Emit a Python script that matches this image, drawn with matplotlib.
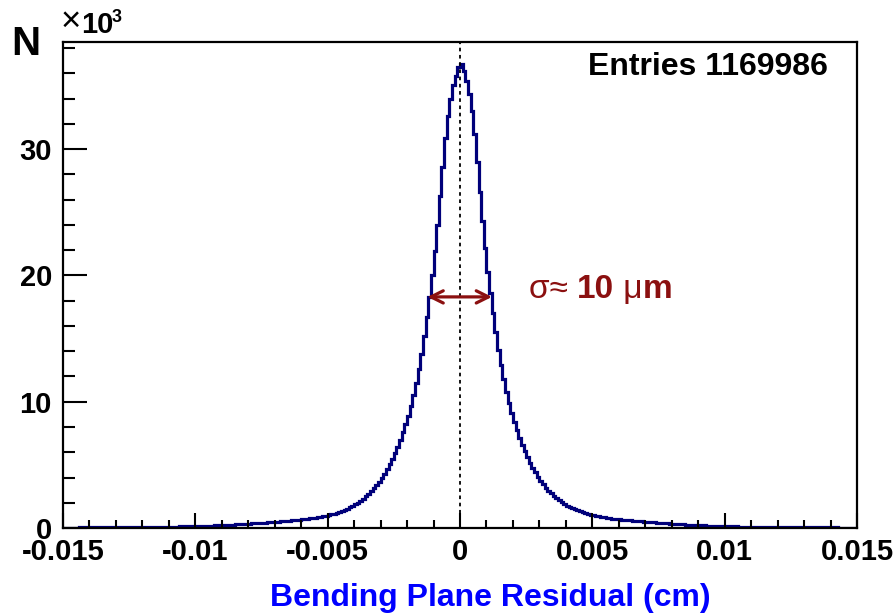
import numpy as np
import matplotlib
matplotlib.use("Agg")
import matplotlib.pyplot as plt
from matplotlib.ticker import MultipleLocator, FuncFormatter
from matplotlib.offsetbox import TextArea, HPacker, AnnotationBbox

plt.rcParams['font.family'] = ['Liberation Sans', 'DejaVu Sans']

# histogram: 300 bins of 0.0001 cm from -0.015 to 0.015, counts in units of 10^3
bin_lo, bin_hi, n_bins = -0.015, 0.015, 300

# left half, read from the centre outward (bin -0.0001..0 first)
left_k = [36.5, 35.8, 35.1, 34.0, 32.6, 30.9, 28.6, 26.3, 24.0, 21.9,
          20.0, 18.3, 16.7, 15.2, 13.8, 12.6, 11.5, 10.5, 9.7, 8.9,
          8.2, 7.6, 7.0, 6.45, 5.95, 5.5, 5.05, 4.65, 4.3, 3.98,
          3.68, 3.4, 3.15, 2.92, 2.7, 2.5, 2.32, 2.16, 2.01, 1.88,
          1.75, 1.64, 1.54, 1.45, 1.37, 1.29, 1.22, 1.15, 1.09, 1.03,
          0.98, 0.94, 0.90, 0.86, 0.82, 0.79, 0.76, 0.73, 0.70, 0.68,
          0.66, 0.64, 0.62, 0.60, 0.58, 0.56, 0.54, 0.52, 0.50, 0.49,
          0.47, 0.46, 0.44, 0.43, 0.41, 0.40, 0.38, 0.37, 0.36, 0.34,
          0.33, 0.32, 0.31, 0.30, 0.29, 0.28, 0.27, 0.26, 0.25, 0.24,
          0.23, 0.22, 0.21, 0.20, 0.19, 0.18, 0.175, 0.17, 0.16, 0.155,
          0.15, 0.145, 0.14, 0.135, 0.13, 0.125, 0.12, 0.115, 0.11, 0.105,
          0.10, 0.097, 0.094, 0.091, 0.088, 0.085, 0.082, 0.08, 0.078, 0.076,
          0.074, 0.072, 0.07, 0.068, 0.066, 0.064, 0.062, 0.06, 0.058, 0.057,
          0.056, 0.055, 0.054, 0.053, 0.052, 0.051, 0.05, 0.049, 0.048, 0.047,
          0.046, 0.045, 0.044, 0.043, 0.042, 0.041, 0.04, 0.039, 0.038, 0.037]

# right half, from the centre outward (bin 0..0.0001 first)
right_k = [36.7, 36.2, 35.4, 34.4, 33.0, 31.2, 29.0, 26.6, 24.3, 22.2,
           20.3, 18.6, 17.0, 15.5, 14.1, 12.9, 11.8, 10.8, 9.9, 9.1,
           8.4, 7.75, 7.15, 6.6, 6.1, 5.6, 5.15, 4.75, 4.4, 4.05,
           3.75, 3.45, 3.2, 2.97, 2.75, 2.55, 2.37, 2.2, 2.05, 1.91,
           1.78, 1.67, 1.57, 1.48, 1.40, 1.32, 1.25, 1.18, 1.12, 1.06,
           1.01, 0.96, 0.92, 0.88, 0.84, 0.81, 0.78, 0.75, 0.72, 0.70,
           0.68, 0.66, 0.64, 0.62, 0.60, 0.58, 0.56, 0.54, 0.52, 0.50,
           0.48, 0.47, 0.45, 0.44, 0.42, 0.41, 0.39, 0.38, 0.37, 0.35,
           0.34, 0.33, 0.31, 0.30, 0.29, 0.28, 0.27, 0.26, 0.25, 0.24,
           0.23, 0.22, 0.21, 0.20, 0.19, 0.18, 0.17, 0.16, 0.155, 0.15,
           0.145, 0.14, 0.135, 0.13, 0.125, 0.12, 0.115, 0.11, 0.105, 0.10,
           0.097, 0.094, 0.091, 0.088, 0.085, 0.082, 0.080, 0.078, 0.076, 0.074,
           0.072, 0.070, 0.068, 0.066, 0.064, 0.062, 0.060, 0.058, 0.057, 0.056,
           0.055, 0.054, 0.053, 0.052, 0.051, 0.050, 0.049, 0.048, 0.047, 0.046,
           0.045, 0.044, 0.043, 0.042, 0.041, 0.040, 0.039, 0.038, 0.037, 0.036]

entries = 1169986
fwhm_lo, fwhm_hi, half_max_k = -0.00123, 0.00121, 18.3

counts = np.array(left_k[::-1] + right_k)
edges = np.linspace(bin_lo, bin_hi, n_bins + 1)

fig = plt.figure(figsize=(8.96, 6.14), dpi=100)
ax = fig.add_axes([0.0703, 0.140, 0.8862, 0.792])

ax.stairs(counts, edges, color='#00007a', lw=2.3)
ax.axvline(0, color='black', lw=1.3, ls=(0, (2, 2)))

red = '#8b1010'
ax.annotate('', xy=(fwhm_lo, half_max_k), xytext=(fwhm_hi, half_max_k),
            arrowprops=dict(arrowstyle='<->', color=red, lw=2.3,
                            mutation_scale=22, shrinkA=0, shrinkB=0))

fs_sig = 24
parts = [TextArea('σ≈ ', textprops=dict(color=red, fontsize=fs_sig)),
         TextArea('10', textprops=dict(color=red, fontsize=fs_sig, weight='bold')),
         TextArea(' μ', textprops=dict(color=red, fontsize=fs_sig)),
         TextArea('m', textprops=dict(color=red, fontsize=fs_sig, weight='bold'))]
box = HPacker(children=parts, align='baseline', pad=0, sep=0)
ax.add_artist(AnnotationBbox(box, (0.0026, 18.9), box_alignment=(0, 0.5),
                             frameon=False, pad=0))

ax.set_xlim(bin_lo, bin_hi)
ax.set_ylim(0, 38.5)

ax.xaxis.set_major_locator(MultipleLocator(0.005))
ax.xaxis.set_minor_locator(MultipleLocator(0.001))
ax.yaxis.set_major_locator(MultipleLocator(10))
ax.yaxis.set_minor_locator(MultipleLocator(2))
ax.xaxis.set_major_formatter(FuncFormatter(lambda v, p: '0' if abs(v) < 1e-9 else f'{v:g}'))

ax.tick_params(axis='both', which='both', direction='in', top=False, right=False,
               width=1.5, labelsize=21)
ax.tick_params(axis='x', which='major', length=11, pad=7)
ax.tick_params(axis='x', which='minor', length=5.5)
ax.tick_params(axis='y', which='major', length=17, pad=8)
ax.tick_params(axis='y', which='minor', length=8.5)
for lab in ax.get_xticklabels() + ax.get_yticklabels():
    lab.set_fontweight('bold')
for s in ax.spines.values():
    s.set_linewidth(1.6)

ax.text(0.963, 0.948, f'Entries {entries}', transform=ax.transAxes,
        ha='right', va='center', fontsize=23, weight='bold')

fig.text(26 / 896, 1 - 44 / 614, 'N', ha='center', va='center',
         fontsize=29, weight='bold')
fig.text(61 / 896, 1 - 38 / 614, '×', ha='left', va='bottom', fontsize=25)
fig.text(81 / 896, 1 - 39 / 614, '10', ha='left', va='bottom',
         fontsize=21, weight='bold')
fig.text(112 / 896, 1 - 18 / 614, '3', ha='left', va='center',
         fontsize=13, weight='bold')

fig.text(490 / 896, 1 - 598 / 614, 'Bending Plane Residual (cm)', ha='center',
         va='center', fontsize=23, weight='bold', color='#0000ff')

fig.savefig('out.png', dpi=100)
